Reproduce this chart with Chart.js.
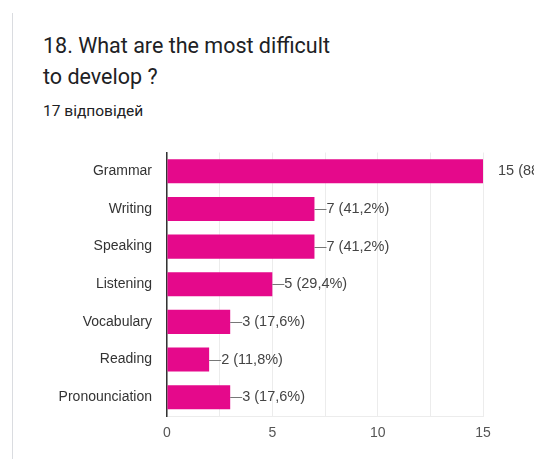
<!DOCTYPE html>
<html>
<head>
<meta charset="utf-8">
<script src="https://cdn.jsdelivr.net/npm/chart.js@4/dist/chart.umd.min.js"></script>
<style>
  html, body { margin: 0; padding: 0; background: #fff; }
  body { width: 534px; height: 459px; position: relative; overflow: hidden; }
  .card-edge { position: absolute; left: 12px; top: 13px; width: 1px; height: 446px; background: #dadce0; }
  .title { position: absolute; left: 43px; top: 30px; font-family: Roboto, sans-serif; font-size: 21.5px; line-height: 31px; color: #202124; }
  .count { position: absolute; left: 43px; top: 101px; font-family: Roboto, sans-serif; font-size: 15.5px; line-height: 20px; color: #202124; }
  #wrap { position: absolute; left: 0; top: 0; width: 534px; height: 459px; }
</style>
</head>
<body>
<div class="card-edge"></div>
<div class="title">18. What are the most difficult<br>to develop ?</div>
<div class="count">17 відповідей</div>
<div id="wrap"><canvas id="myChart" width="534" height="459"></canvas></div>
<script>
const categories = ['Grammar', 'Writing', 'Speaking', 'Listening', 'Vocabulary', 'Reading', 'Pronounciation'];
const answers = [15, 7, 7, 5, 3, 2, 3];
const totalResponses = 17;
const xTicks = [0, 5, 10, 15];

const chartFont = 'Arial, "Liberation Sans", sans-serif';

// "7 (41,2%)" style labels, with a short leader line from the bar end
const valueLabels = {
  id: 'valueLabels',
  afterDatasetsDraw(chart) {
    const ctx = chart.ctx;
    const area = chart.chartArea;
    const meta = chart.getDatasetMeta(0);
    ctx.save();
    ctx.font = '14.5px ' + chartFont;
    ctx.textBaseline = 'middle';
    ctx.fillStyle = '#444';
    meta.data.forEach((bar, i) => {
      const v = answers[i];
      const pct = (v / totalResponses * 100).toFixed(1).replace('.', ',');
      const text = v + ' (' + pct + '%)';
      if (bar.x < area.right - 1) {
        ctx.strokeStyle = '#777';
        ctx.lineWidth = 1;
        ctx.beginPath();
        ctx.moveTo(bar.x, Math.round(bar.y) + 0.5);
        ctx.lineTo(bar.x + 12, Math.round(bar.y) + 0.5);
        ctx.stroke();
        ctx.fillText(text, bar.x + 12, bar.y);
      } else {
        ctx.fillText(text, bar.x + 15, bar.y);
      }
    });
    ctx.restore();
  }
};

const ctx = document.getElementById('myChart').getContext('2d');
const myChart = new Chart(ctx, {
  type: 'bar',
  data: {
    labels: categories,
    datasets: [{
      data: answers,
      backgroundColor: '#e5098b',
      borderWidth: 0,
      categoryPercentage: 0.64,
      barPercentage: 1
    }]
  },
  options: {
    indexAxis: 'y',
    responsive: false,
    animation: false,
    layout: { padding: { top: 152.5, right: 51, left: 0, bottom: 0 } },
    plugins: { legend: { display: false }, tooltip: { enabled: false } },
    scales: {
      x: {
        min: 0,
        max: 15,
        afterFit(scale) { scale.height = 43; },
        ticks: {
          stepSize: 2.5,
          autoSkip: false,
          maxRotation: 0,
          padding: 9,
          color: '#555',
          font: { family: chartFont, size: 14 },
          callback: (val) => xTicks.includes(val) ? val : ''
        },
        grid: { color: '#ececec', drawTicks: false },
        border: { display: true, color: '#ececec' }
      },
      y: {
        afterFit(scale) { scale.width = 167; },
        ticks: {
          padding: 15,
          color: '#333',
          font: { family: chartFont, size: 14 }
        },
        grid: { display: false, drawTicks: false },
        border: { display: true, color: '#333', width: 1.5 }
      }
    }
  },
  plugins: [valueLabels]
});
</script>
</body>
</html>
